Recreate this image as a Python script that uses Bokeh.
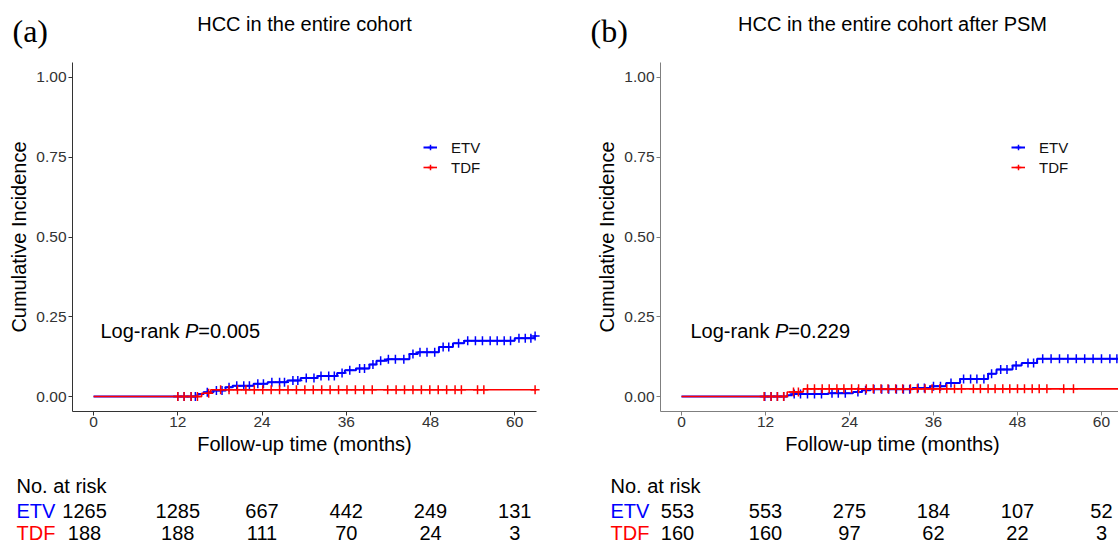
import numpy as np
from bokeh.plotting import figure
from bokeh.layouts import row
from bokeh.models import Legend, LegendItem, Range1d, FixedTicker, NumeralTickFormatter, ColumnDataSource
from bokeh.core.properties import value
from bokeh.embed import file_html
from bokeh.resources import INLINE

# ---------------- data ----------------
risk_times = [0, 12, 24, 36, 48, 60]
groups = ["ETV", "TDF"]

# Panel (a): HCC in the entire cohort
a_etv_time = [0, 14.8, 15.7, 17.1, 18.8, 19.8, 22.8, 24.8, 27.6, 29.5, 31.9, 34.7, 35.8, 37.4,
              39.3, 40.3, 41.8, 45.0, 46.2, 49.2, 51.2, 52.8, 60.0, 62.8, 63.1]
a_etv_inc = [0, 0.008, 0.013, 0.019, 0.029, 0.034, 0.040, 0.045, 0.050, 0.058, 0.064, 0.074, 0.082, 0.088,
             0.100, 0.112, 0.117, 0.133, 0.139, 0.155, 0.167, 0.175, 0.183, 0.190, 0.190]
a_tdf_time = [0, 15.4, 16.7, 63.1]
a_tdf_inc = [0, 0.010, 0.021, 0.021]
a_etv_cens = [12.0, 12.9, 13.9, 14.5, 16.2, 17.5, 18.3, 19.3, 20.4, 21.4, 22.2, 23.4, 24.2, 25.4, 26.5,
              27.2, 28.4, 29.1, 30.3, 31.4, 32.4, 33.5, 34.3, 35.4, 36.5, 37.9, 38.6, 39.8, 40.9, 42.0,
              43.0, 44.2, 45.5, 46.5, 47.5, 48.6, 49.8, 50.6, 52.0, 53.3, 54.4, 55.4, 56.5, 57.5, 58.5,
              59.4, 60.6, 61.5, 62.3, 62.9]
a_tdf_cens = [12.0, 12.9, 13.9, 14.8, 16.4, 18.1, 19.3, 20.5, 21.7, 22.9, 24.1, 25.3, 26.5, 27.7, 28.9,
              30.1, 31.3, 32.5, 33.7, 34.9, 36.1, 37.3, 38.5, 39.7, 41.9, 43.1, 44.3, 45.5, 46.7, 47.9,
              49.1, 50.3, 51.5, 52.4, 54.7, 55.6, 62.9]
a_etv_risk = [1265, 1285, 667, 442, 249, 131]
a_tdf_risk = [188, 188, 111, 70, 24, 3]
a_pvalue = "0.005"

# Panel (b): HCC in the entire cohort after PSM
b_etv_time = [0, 15.1, 15.8, 21.0, 24.5, 25.8, 27.0, 33.0, 35.5, 37.8, 39.8, 43.8, 45.0, 47.3, 48.6,
              50.8, 63.1]
b_etv_inc = [0, 0.004, 0.008, 0.010, 0.014, 0.020, 0.023, 0.027, 0.032, 0.042, 0.055, 0.071, 0.085,
             0.097, 0.105, 0.118, 0.118]
b_tdf_time = [0, 15.1, 17.4, 63.1]
b_tdf_inc = [0, 0.014, 0.024, 0.024]
b_etv_cens = [11.9, 12.8, 13.7, 14.6, 16.1, 17.0, 18.0, 19.0, 20.0, 21.5, 22.4, 23.4, 25.2, 26.3, 27.5,
              28.6, 29.6, 30.7, 31.7, 32.6, 33.8, 34.7, 36.0, 37.0, 38.5, 40.3, 41.3, 42.2, 43.2, 44.3,
              45.6, 46.5, 47.8, 49.5, 50.3, 51.6, 52.8, 54.0, 55.2, 56.4, 57.6, 58.8, 60.0, 61.2, 62.2]
b_tdf_cens = [11.8, 12.8, 13.7, 14.6, 16.0, 16.7, 18.0, 19.0, 20.1, 21.1, 22.2, 23.2, 24.3, 25.3, 26.4,
              27.4, 28.5, 29.5, 30.6, 31.6, 32.7, 33.7, 34.8, 35.8, 36.9, 37.9, 39.0, 40.0, 41.7, 42.7,
              43.8, 44.8, 45.9, 46.9, 48.0, 49.0, 50.1, 51.1, 52.2, 54.6, 56.0]
b_etv_risk = [553, 553, 275, 184, 107, 52]
b_tdf_risk = [160, 160, 97, 62, 22, 3]
b_pvalue = "0.229"

# ---------------- styling / layout ----------------
SANS = "Liberation Sans"
SERIF = "Liberation Serif"
COL = {"ETV": "#0000FF", "TDF": "#FF0000"}
H = 543
LEFT = 72                         # panel left edge inside each figure (px)
FRAME_TOP, FRAME_BOT = 62, 411    # panel top/bottom (px)
X0 = -3
Y0, Y1 = -0.047, 1.047


def step_at(times, inc, c):
    idx = np.searchsorted(np.asarray(times), np.asarray(c), side="right") - 1
    return np.asarray(inc)[idx]


def panel(tag, title, width, x_end, right_pad, etv, tdf, pval, risks,
          tag_x, lr_x, risk_x, first_col_shift, axis_color):
    panel_w = width - LEFT - right_pad
    kx = panel_w / (x_end - X0)
    ky = (FRAME_BOT - FRAME_TOP) / (Y1 - Y0)

    def dx(px):       # figure px -> months
        return X0 + (px - LEFT) / kx

    def dy(py):       # figure px (from top) -> incidence
        return Y0 + (FRAME_BOT - py) / ky

    p = figure(width=width, height=H,
               x_range=Range1d(dx(0), dx(width)), y_range=Range1d(dy(H), dy(0)),
               output_backend="svg", toolbar_location=None, min_border=0,
               min_border_left=0, min_border_right=0, min_border_top=0, min_border_bottom=0)
    p.outline_line_color = None
    p.background_fill_color = "white"
    p.border_fill_color = "white"
    p.xgrid.visible = False
    p.ygrid.visible = False
    for ax in (p.xaxis, p.yaxis):
        ax.axis_line_color = axis_color
        ax.axis_line_width = 1
        ax.major_tick_line_color = axis_color
        ax.major_tick_out = 4
        ax.major_tick_in = 0
        ax.minor_tick_line_color = None
        ax.major_label_text_font = SANS
        ax.major_label_text_font_size = "15.5px"
        ax.major_label_text_color = "#333333"
    p.xaxis.fixed_location = Y0
    p.yaxis.fixed_location = X0
    p.xaxis.bounds = (X0, x_end)
    p.yaxis.bounds = (Y0, Y1)
    p.xaxis.ticker = FixedTicker(ticks=risk_times)
    p.yaxis.ticker = FixedTicker(ticks=[0, 0.25, 0.5, 0.75, 1.0])
    p.yaxis.formatter = NumeralTickFormatter(format="0.00")
    p.xaxis.major_label_standoff = 1
    p.yaxis.major_label_standoff = 2

    rends = {}
    for g, (t, v, c) in zip(groups, (etv, tdf)):
        ln = p.step(x=t, y=v, mode="after", line_color=COL[g], line_width=2 if g == "ETV" else 1.6)
        sc = p.scatter(x=c, y=step_at(t, v, c), marker="cross", size=9,
                       line_color=COL[g], line_width=1.5)
        rends[g] = [ln, sc]

    legend = Legend(items=[LegendItem(label=g, renderers=rends[g]) for g in groups],
                    location=(LEFT + 351, H - 177), orientation="vertical",
                    background_fill_alpha=0, border_line_alpha=0,
                    padding=0, margin=0, spacing=0,
                    glyph_width=14, glyph_height=20, label_height=20, label_standoff=14,
                    label_text_font=SANS, label_text_font_size="15px", label_text_color="#111111")
    p.add_layout(legend, "center")

    def txt(xs, ys, texts, colors="#000000", align="left", size="20px", font=SANS,
            style="normal", angle=0.0, x_offset=0):
        n = len(xs)
        src = ColumnDataSource(dict(x=list(xs), y=list(ys), t=list(texts),
                                    c=list(colors) if isinstance(colors, list) else [colors] * n))
        p.text(x="x", y="y", text="t", source=src, text_color="c", text_font=value(font),
               text_font_size=value(size), text_font_style=style, text_align=align,
               text_baseline="middle", angle=angle, x_offset=x_offset)

    xc = dx(LEFT + 232)
    txt([dx(tag_x)], [dy(30)], [tag], size="32px", font=SERIF)
    txt([xc], [dy(23)], [title], align="center")
    txt([dx(18)], [dy(236.5)], ["Cumulative Incidence"], align="center", angle=np.pi / 2)
    txt([xc], [dy(443)], ["Follow-up time (months)"], align="center")

    # log-rank annotation
    lx, ly = dx(lr_x), dy(330)
    txt([lx], [ly], ["Log-rank "])
    txt([lx], [ly], ["P"], style="italic", x_offset=84.5)
    txt([lx], [ly], ["=" + pval], x_offset=97.8)

    # number at risk table
    txt([dx(risk_x)], [dy(485)], ["No. at risk"])
    for g, yy, counts in zip(groups, (510, 532), risks):
        txt([dx(risk_x)], [dy(yy)], [g], colors=COL[g])
        txt(risk_times[:1], [dy(yy)], [str(counts[0])], align="center", x_offset=first_col_shift)
        txt(risk_times[1:], [dy(yy)] * (len(risk_times) - 1), [str(n) for n in counts[1:]],
            align="center")
    return p


pa = panel("(a)", "HCC in the entire cohort", 588, 63.1, 52,
           (a_etv_time, a_etv_inc, a_etv_cens), (a_tdf_time, a_tdf_inc, a_tdf_cens),
           a_pvalue, (a_etv_risk, a_tdf_risk),
           tag_x=12, lr_x=100, risk_x=16, first_col_shift=-9, axis_color="#333333")
pb = panel("(b)", "HCC in the entire cohort after PSM", 530, 62.43, 0,
           (b_etv_time, b_etv_inc, b_etv_cens), (b_tdf_time, b_tdf_inc, b_tdf_cens),
           b_pvalue, (b_etv_risk, b_tdf_risk),
           tag_x=2, lr_x=102, risk_x=22, first_col_shift=-4, axis_color="#7f7f7f")

layout = row(pa, pb, spacing=0)
open("out.html", "w").write(file_html(layout, INLINE))
